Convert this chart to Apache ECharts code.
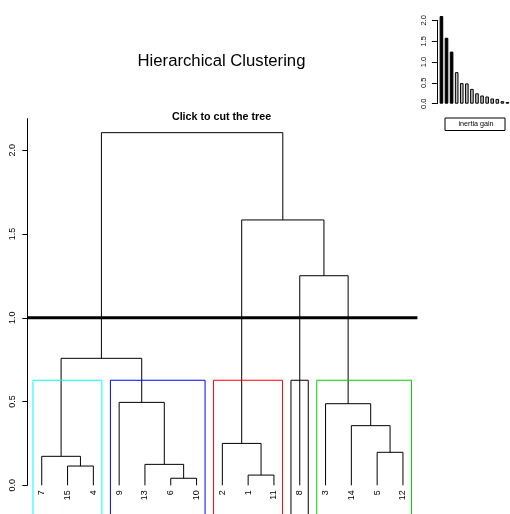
<!DOCTYPE html>
<html>
<head>
<meta charset="utf-8">
<script src="https://cdn.jsdelivr.net/npm/echarts@6/dist/echarts.min.js"></script>
<style>
html,body{margin:0;padding:0;background:#fff;}
#chart{width:510px;height:514px;}
</style>
</head>
<body>
<div id="chart"></div>
<script>
// ---- data ----
const leafOrder = ['7','15','4','9','13','6','10','2','1','11','8','3','14','5','12'];
// hclust-like merges: 'mK' refers to the K-th merge (1-based)
const mergeLeft   = ['6','1','15','13','7','5','2','14','3','9','m5','8','m7','m11'];
const mergeRight  = ['10','11','4','m1','m3','12','m2','m6','m8','m4','m10','m9','m12','m13'];
const mergeHeight = [0.042,0.061,0.115,0.125,0.173,0.197,0.25,0.356,0.487,0.495,0.758,1.251,1.584,2.105];
const inertiaGain = [2.105,1.584,1.251,0.758,0.495,0.487,0.356,0.25,0.197,0.173,0.125,0.115,0.061,0.042];
const gainHighlighted = 3;
const clusterLeaves = [['7','15','4'],['9','13','6','10'],['2','1','11'],['8'],['3','14','5','12']];
const clusterColors = ['#00FFFF','#0000FF','#FF0000','#000000','#00CD00'];
const cutHeight = 1.0;
const rectTop = 0.627;
const yTicks = [0, 0.5, 1, 1.5, 2];
const gainTicks = [0, 0.5, 1, 1.5, 2];

// ---- build tree geometry in data units ----
const nodePos = {};
leafOrder.forEach((l, i) => { nodePos[l] = [i + 1, 0]; });
const segments = [];
mergeHeight.forEach((h, k) => {
  const a = nodePos[mergeLeft[k]], b = nodePos[mergeRight[k]];
  segments.push([a[0], a[1], a[0], h]);
  segments.push([a[0], h, b[0], h]);
  segments.push([b[0], h, b[0], b[1]]);
  nodePos['m' + (k + 1)] = [(a[0] + b[0]) / 2, h];
});
const rects = clusterLeaves.map((leaves, ci) => {
  const idx = leaves.map(l => leafOrder.indexOf(l) + 1);
  return [Math.min(...idx) - 0.34, Math.max(...idx) + 0.33, rectTop, ci];
});

const FONT = 'Liberation Sans, Arial, Helvetica, sans-serif';
const chart = echarts.init(document.getElementById('chart'), null, {renderer: 'canvas'});

const option = {
  backgroundColor: '#fff',
  animation: false,
  title: [
    {text: 'Hierarchical Clustering', left: 216.5, top: 48, textAlign: 'center',
     textStyle: {fontFamily: FONT, fontSize: 16.7, fontWeight: 'normal', color: '#000'}},
    {text: 'Click to cut the tree', left: 216.5, top: 107, textAlign: 'center',
     textStyle: {fontFamily: FONT, fontSize: 10.7, fontWeight: 'bold', color: '#000'}}
  ],
  grid: [
    {left: 27.3, top: 118.6, width: 390.1, height: 366.7},
    {left: 438.9, top: 20.4, width: 72.8, height: 83.3}
  ],
  xAxis: [
    {type: 'value', gridIndex: 0, min: 0.44, max: 15.56,
     axisLine: {show: false}, axisTick: {show: false}, splitLine: {show: false},
     axisLabel: {customValues: leafOrder.map((l, i) => i + 1),
       formatter: v => leafOrder[Math.round(v) - 1], rotate: 90, margin: 5,
       fontFamily: FONT, fontSize: 9, color: '#000'}},
    {type: 'category', gridIndex: 1, data: inertiaGain.map((v, i) => i + 1), show: false}
  ],
  yAxis: [
    {type: 'value', gridIndex: 0, min: 0, max: 2.189,
     axisLine: {show: true, lineStyle: {color: '#000', width: 1}},
     axisTick: {show: true, length: 5, customValues: yTicks, lineStyle: {color: '#000'}},
     splitLine: {show: false},
     axisLabel: {customValues: yTicks, formatter: v => v.toFixed(1), rotate: 90, margin: 10,
       fontFamily: FONT, fontSize: 9, color: '#000'}},
    {type: 'value', gridIndex: 1, min: 0, max: 2.0, offset: 2,
     axisLine: {show: true, lineStyle: {color: '#000', width: 1}},
     axisTick: {show: true, length: 5, customValues: gainTicks, lineStyle: {color: '#000'}},
     splitLine: {show: false},
     axisLabel: {customValues: gainTicks, formatter: v => v.toFixed(1), rotate: 90, margin: 9,
       fontFamily: FONT, fontSize: 7.5, color: '#000'}}
  ],
  series: [
    {type: 'custom', name: 'tree', xAxisIndex: 0, yAxisIndex: 0, clip: false, z: 2,
     dimensions: ['x1','y1','x2','y2'], encode: {x: [0, 2], y: [1, 3]},
     data: segments,
     renderItem: (params, api) => {
       const p1 = api.coord([api.value(0), api.value(1)]);
       const p2 = api.coord([api.value(2), api.value(3)]);
       return {type: 'line', shape: {x1: p1[0], y1: p1[1], x2: p2[0], y2: p2[1]},
               style: {stroke: '#000', lineWidth: 1}};
     }},
    {type: 'line', name: 'cut', xAxisIndex: 0, yAxisIndex: 0, z: 3, symbol: 'none',
     data: [[0.44, cutHeight], [15.56, cutHeight]],
     lineStyle: {color: '#000', width: 3}},
    {type: 'custom', name: 'clusters', xAxisIndex: 0, yAxisIndex: 0, clip: false, z: 4,
     dimensions: ['x0','x1','top','c'], encode: {x: [0, 1], y: 2},
     data: rects,
     renderItem: (params, api) => {
       const x0 = api.value(0), x1 = api.value(1), top = api.value(2);
       const pts = [api.coord([x0, -0.3]), api.coord([x0, top]), api.coord([x1, top]), api.coord([x1, -0.3])];
       return {type: 'polyline', shape: {points: pts},
               style: {stroke: clusterColors[api.value(3)], lineWidth: 1, fill: null}};
     }},
    {type: 'bar', name: 'inertia gain', xAxisIndex: 1, yAxisIndex: 1, clip: false,
     barWidth: 3.6,
     data: inertiaGain.map((v, i) => ({value: v,
       itemStyle: {color: i < gainHighlighted ? '#000' : '#BEBEBE', borderColor: '#000', borderWidth: 1}}))}
  ],
  graphic: [
    {type: 'group', left: 444.5, top: 117.5, children: [
      {type: 'rect', shape: {x: 0, y: 0, width: 60, height: 12.5},
       style: {fill: '#fff', stroke: '#000', lineWidth: 1}},
      {type: 'text', x: 31, y: 6.3,
       style: {text: 'inertia gain', fontFamily: FONT, fontSize: 7.2, fill: '#000',
               textAlign: 'center', textVerticalAlign: 'middle'}}
    ]}
  ]
};
chart.setOption(option);
</script>
</body>
</html>
